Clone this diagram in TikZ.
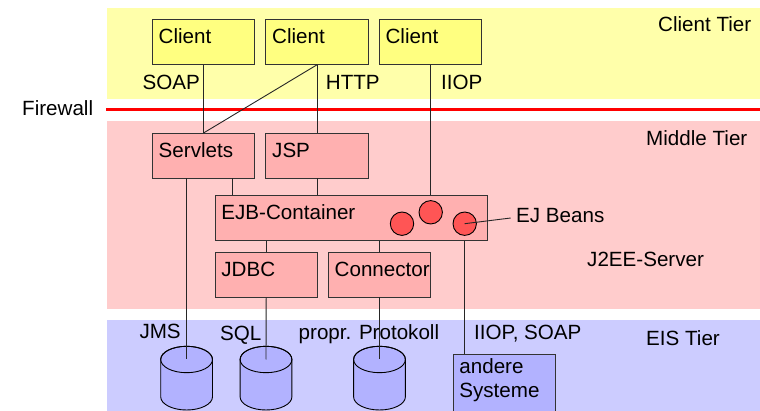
\documentclass[tikz,border=0pt]{standalone}
\usepackage{fontspec}
\setmainfont{Liberation Sans}
\usetikzlibrary{calc,positioning}
\definecolor{clientband}{HTML}{FFFFAA}
\definecolor{clientfill}{HTML}{FFFF80}
\definecolor{middleband}{HTML}{FFCCCC}
\definecolor{middlefill}{HTML}{FFB0B0}
\definecolor{beanfill}{HTML}{FF5555}
\definecolor{eisband}{HTML}{CCCCFF}
\definecolor{eisfill}{HTML}{B2B2FF}
\tikzset{
  every node/.style={font=\fontsize{20.6}{24}\selectfont},
  tag/.style={anchor=base west,inner sep=0pt},
  box/.style={draw=black!80,line width=0.9pt,anchor=north west,align=left,outer sep=0pt,
    inner xsep=6.4pt,inner ysep=0pt,text width=89.6pt,text height=24.2pt,text depth=21.3pt},
  clientbox/.style={box,fill=clientfill},
  middlebox/.style={box,fill=middlefill},
  database/.style={draw=black,line width=0.9pt,fill=eisfill,x radius=25.9,y radius=13.2},
  bean/.style={draw=black,line width=0.9pt,fill=beanfill,circle,outer sep=0pt,minimum size=23.4pt,inner sep=0pt},
  wire/.style={draw=black!85,line width=0.9pt}
}
\begin{document}
\begin{tikzpicture}[x=1pt,y=-1pt]
\useasboundingbox (0,0) rectangle (760,411);
% tiers
\fill[clientband] (107,8) rectangle (760,99);
\fill[middleband] (107,121) rectangle (760,309);
\fill[eisband] (107,320) rectangle (760,411);
\coordinate (wallleft) at (106,110);
\coordinate (wallright) at (760,110);
\draw[red,line width=3pt] (wallleft) -- (wallright);
\node[tag] (firewall) at (22,116) {Firewall};
\node[tag] (clienttier) at (658,32) {Client Tier};
\node[tag] (middletier) at (646,146) {Middle Tier};
\node[tag] (server) at (587,267) {J2EE-Server};
\node[tag] (eistier) at (646,345) {EIS Tier};
% boxes
\node[clientbox] (clienta) at (152.3,19.3) {Client};
\node[clientbox] (clientb) at (265.8,19.3) {Client};
\node[clientbox] (clientc) at (379.2,19.3) {Client};
\node[middlebox] (servlets) at (152.3,133) {Servlets};
\node[middlebox] (jsp) at (265.8,133) {JSP};
\node[middlebox,text width=259.5pt] (ejb) at (215,195.3) {EJB-Container};
\node[middlebox] (jdbc) at (215,252) {JDBC};
\node[middlebox] (connector) at (328.3,252) {Connector};
\node[box,fill=eisfill,text height=19.5pt,text depth=37.5pt,
  execute at begin node={\setlength{\baselineskip}{24pt}}] (andere) at (453,354) {andere\\Systeme};
% databases
\foreach \dbname/\dbx in {dba/186.6,dbb/266,dbc/379.5}{
  \coordinate (\dbname) at (\dbx,359.5);
  \draw[database] ($(\dbname)+(-25.9,0)$) -- ++(0,37.3)
    arc[start angle=180,end angle=0] -- ++(0,-37.3)
    arc[start angle=0,end angle=-180] -- cycle;
  \draw[database,fill=none] (\dbname) ellipse[];
}
% beans
\node[bean] (beana) at (402,223.7) {};
\node[bean] (beanb) at (430.7,212.3) {};
\node[bean] (beanc) at (464.7,223.7) {};
\node[tag] (beans) at (516,223) {EJ Beans};
\coordinate (beansend) at (510.7,218);
\coordinate (ejbleft) at ($(ejb.north west)+(17,0)$);
% connectors
\draw[wire] (clienta.south) -- (servlets.north);
\draw[wire] (clientb.south) -- (servlets.north);
\draw[wire] (clientb.south) -- (jsp.north);
\draw[wire] (clientc.south) -- (clientc.south |- ejb.north);
\draw[wire] (ejbleft) -- (ejbleft |- servlets.south);
\draw[wire] (jsp.south) -- (jsp.south |- ejb.north);
\draw[wire] (dba |- servlets.south) -- (dba);
\draw[wire] (jdbc.north) -- (jdbc.north |- ejb.south);
\draw[wire] (connector.north) -- (connector.north |- ejb.south);
\draw[wire] (jdbc.south) -- (dbb);
\draw[wire] (connector.south) -- (dbc);
\draw[wire] (beanc.center |- ejb.south) -- (beanc.center |- andere.north);
\draw[wire] (beansend) -- (beanc.center);
% protocols
\node[tag] (soap) at (142.5,90) {SOAP};
\node[tag] (http) at (325.7,90) {HTTP};
\node[tag] (iiop) at (441,90) {IIOP};
\node[tag] (jms) at (139.3,338.3) {JMS};
\node[tag] (sql) at (220,341) {SQL};
\node[tag] (propr) at (298.5,340) {propr. Protokoll};
\node[tag] (iiopsoap) at (474,340) {IIOP, SOAP};
\end{tikzpicture}
\end{document}
